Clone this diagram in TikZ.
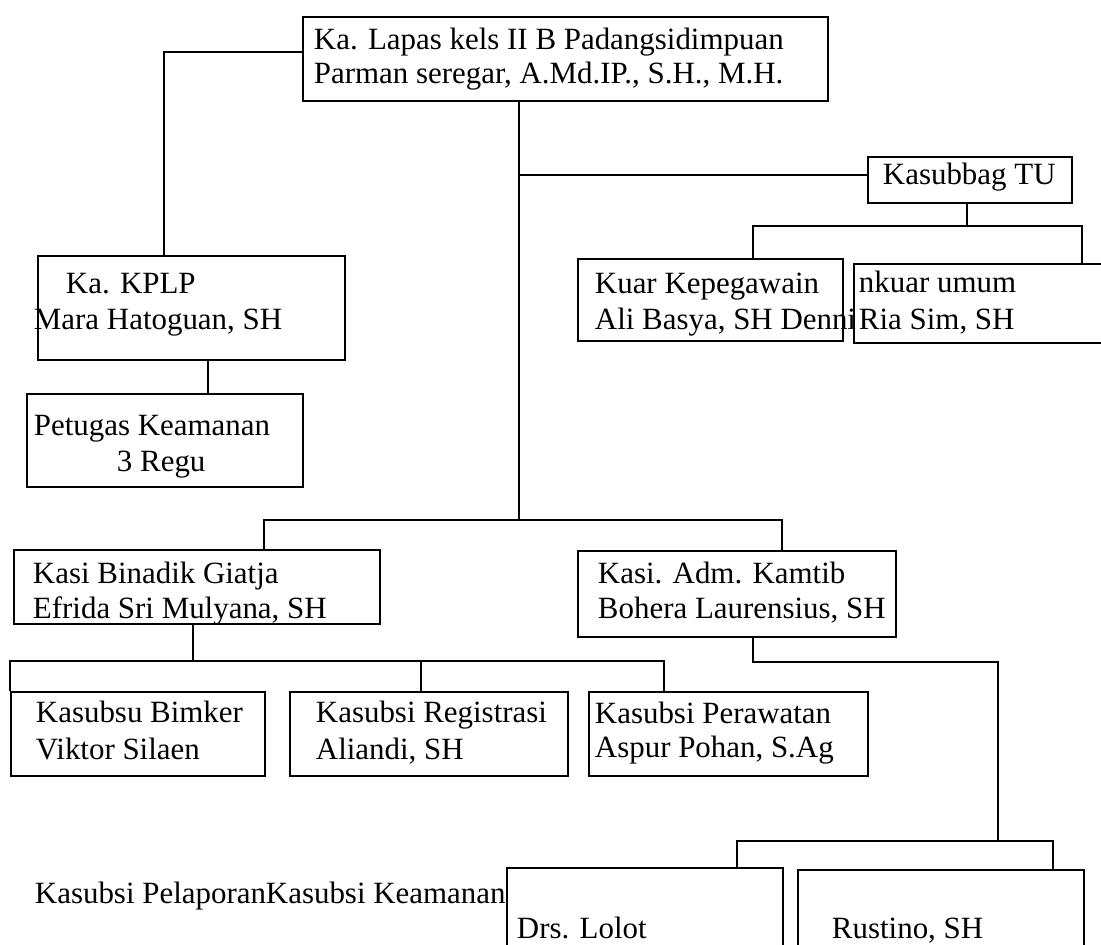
\documentclass[tikz,border=0pt]{standalone}
\usepackage{fontspec}
\setmainfont{Liberation Serif}
\usetikzlibrary{calc}
\begin{document}
\begin{tikzpicture}[x=0.02cm,y=-0.02cm,line width=1.1pt,
  box/.style={draw,rectangle,anchor=north west,inner sep=0pt},
  txt/.style={anchor=base west,inner sep=0pt,font=\fontsize{17.6pt}{21pt}\selectfont}]
\fill[white] (0,0) rectangle (1101,945);
\useasboundingbox (0,0) rectangle (1101,945);

\node[box,minimum width=10.5cm,minimum height=1.68cm] (top) at (302,16) {};
\node[txt] (top1) at (313,50) {Ka. Lapas kels II B Padangsidimpuan};
\node[txt] (top2) at (313,84) {Parman seregar, A.Md.IP., S.H., M.H.};

\node[box,minimum width=6.14cm,minimum height=2.08cm] (kplp) at (37,255) {};
\node[txt] (kplp1) at (65,294) {Ka. KPLP};
\node[txt] (kplp2) at (33,330) {Mara Hatoguan, SH};
\draw ($(top.north west)+(0,36)$) -| ($(kplp.north west)+(127,0)$);

\node[box,minimum width=5.52cm,minimum height=1.86cm] (petugas) at (26,393) {};
\node[txt] (petugas1) at (33,435) {Petugas Keamanan};
\node[txt] (petugas2) at (116,471) {3 Regu};
\draw ($(kplp.south west)+(171,0)$) coordinate (k1) -- (k1 |- petugas.north);

\coordinate (hub) at (519,520);
\draw (hub |- top.south) -- (hub);

\node[box,minimum width=4.08cm,minimum height=0.92cm] (kasubbag) at (867,156) {};
\node[txt] (kasubbag1) at (882,185) {Kasubbag TU};
\draw ($(hub |- kasubbag.west)+(0,-5)$) -- ($(kasubbag.west)+(0,-5)$);

\node[box,minimum width=5.3cm,minimum height=1.64cm] (kuar) at (577,258) {};
\node[txt] (kuar1) at (594,294) {Kuar Kepegawain};
\node[txt] (kuar2) at (594,330) {Ali Basya, SH Denni};

\node[box,minimum width=5.2cm,minimum height=1.58cm] (umum) at (853,263) {};
\node[txt] (umum1) at (858,293) {nkuar umum};
\node[txt] (umum2) at (858,330) {Ria Sim, SH};

\coordinate (tu) at (967,226);
\draw (tu |- kasubbag.south) -- (tu);
\draw ($(kuar.north west)+(176,0)$) |- (tu) -| ($(umum.north west)+(229,0)$);

\node[box,minimum width=7.32cm,minimum height=1.48cm] (binadik) at (13,549) {};
\node[txt] (binadik1) at (32,583) {Kasi Binadik Giatja};
\node[txt] (binadik2) at (32,618) {Efrida Sri Mulyana, SH};

\node[box,minimum width=6.36cm,minimum height=1.72cm] (kamtib) at (577,550) {};
\node[txt] (kamtib1) at (597,583) {Kasi. Adm. Kamtib};
\node[txt] (kamtib2) at (597,618) {Bohera Laurensius, SH};
\draw ($(binadik.north west)+(251,0)$) |- (hub) -| ($(kamtib.north west)+(205,0)$);

\node[box,minimum width=5.08cm,minimum height=1.68cm] (bimker) at (10,691) {};
\node[txt] (bimker1) at (35,722) {Kasubsu Bimker};
\node[txt] (bimker2) at (35,759) {Viktor Silaen};

\node[box,minimum width=5.56cm,minimum height=1.68cm] (registrasi) at (289,691) {};
\node[txt] (registrasi1) at (315,722) {Kasubsi Registrasi};
\node[txt] (registrasi2) at (315,759) {Aliandi, SH};

\node[box,minimum width=5.58cm,minimum height=1.68cm] (perawatan) at (588,691) {};
\node[txt] (perawatan1) at (594,723) {Kasubsi Perawatan};
\node[txt] (perawatan2) at (594,757) {Aspur Pohan, S.Ag};

\coordinate (gj) at (193,661);
\draw (gj |- binadik.south) -- (gj);
\draw (bimker.north west) |- (gj) -| ($(perawatan.north west)+(76,0)$);
\draw ($(registrasi.north west)+(132,0)$) coordinate (r1) -- (r1 |- gj);

\node[txt] (pelaporan) at (34,903) {Kasubsi PelaporanKasubsi Keamanan};

\node[box,minimum width=5.52cm,minimum height=2cm] (lolot) at (506,867) {};
\node[txt] (lolot1) at (516,938) {Drs. Lolot};

\node[box,minimum width=5.72cm,minimum height=2cm] (rustino) at (797,869) {};
\node[txt] (rustino1) at (831,938) {Rustino, SH};

\coordinate (ka) at (998,662);
\coordinate (km) at (998,841);
\draw ($(kamtib.south west)+(176,0)$) |- (ka) -- (km);
\draw ($(lolot.north west)+(231,0)$) |- (km) -| ($(rustino.north west)+(256,0)$);
\end{tikzpicture}
\end{document}
